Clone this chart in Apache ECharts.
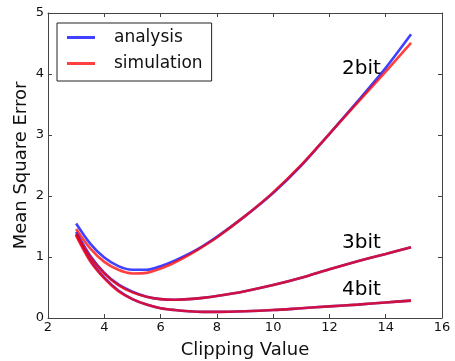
<!DOCTYPE html>
<html>
<head>
<meta charset="utf-8">
<script src="https://cdn.jsdelivr.net/npm/echarts@6/dist/echarts.min.js"></script>
<style>
  html, body { margin: 0; padding: 0; background: #fff; }
  #chart { width: 455px; height: 361px; }
</style>
</head>
<body>
<div id="chart"></div>
<script>
// clipping values (x)
const clipValues = [3.0, 3.5, 4.0, 4.5, 5.0, 5.5, 6.0, 6.5, 7.0, 7.5, 8.0, 9.0, 10.0, 11.0, 12.0, 13.0, 14.0, 14.9]

// 2bit
const analysis2 = [1.55, 1.22, 0.99, 0.85, 0.79, 0.79, 0.85, 0.94, 1.05, 1.18, 1.33, 1.67, 2.05, 2.50, 3.02, 3.55, 4.10, 4.65]
const simulation2 = [1.46, 1.14, 0.92, 0.79, 0.73, 0.74, 0.81, 0.91, 1.03, 1.17, 1.32, 1.67, 2.06, 2.51, 3.02, 3.53, 4.04, 4.51]
// 3bit
const analysis3 = [1.41, 1.02, 0.74, 0.55, 0.43, 0.35, 0.31, 0.30, 0.31, 0.33, 0.36, 0.44, 0.54, 0.66, 0.80, 0.93, 1.05, 1.16]
const simulation3 = [1.38, 1.00, 0.73, 0.54, 0.42, 0.35, 0.31, 0.30, 0.31, 0.33, 0.36, 0.44, 0.54, 0.66, 0.80, 0.93, 1.05, 1.16]
// 4bit
const analysis4 = [1.37, 0.95, 0.66, 0.45, 0.31, 0.22, 0.16, 0.13, 0.11, 0.10, 0.10, 0.11, 0.13, 0.16, 0.19, 0.22, 0.255, 0.285]
const simulation4 = [1.35, 0.93, 0.65, 0.44, 0.31, 0.22, 0.16, 0.13, 0.11, 0.10, 0.10, 0.11, 0.13, 0.16, 0.19, 0.22, 0.255, 0.285]

const xTicks = [2, 4, 6, 8, 10, 12, 14, 16]
const yTicks = [0, 1, 2, 3, 4, 5]

// curve labels, anchored in data coords
const curveLabels = [
  { text: '2bit', x: 12.45, y: 4.08 },
  { text: '3bit', x: 12.45, y: 1.23 },
  { text: '4bit', x: 12.45, y: 0.46 }
]

const FONT = 'DejaVu Sans'
const BLUE = '#0000ff'
const RED = '#ff0000'

const toPairs = (ys) => clipValues.map((x, i) => [x, ys[i]])

const makeSeries = (name, color, ys) => ({
  name,
  type: 'line',
  data: toPairs(ys),
  smooth: 0.3,
  symbol: 'none',
  color,
  lineStyle: { width: 2.6, color, opacity: 0.75 },
  itemStyle: { color, opacity: 0.75 },
  z: name === 'simulation' ? 3 : 2
})

const axisCommon = {
  type: 'value',
  splitLine: { show: false },
  axisLine: { show: true, onZero: false, lineStyle: { color: '#444', width: 1 } },
  axisTick: { show: true, inside: true, length: 4, lineStyle: { color: '#444' } }
}

const chart = echarts.init(document.getElementById('chart'))

const option = {
  animation: false,
  backgroundColor: '#fff',
  grid: { left: 48, right: 13, top: 13, bottom: 43, outerBoundsMode: 'none' },
  legend: {
    data: ['analysis', 'simulation'],
    orient: 'vertical',
    left: 57,
    top: 23,
    icon: 'rect',
    itemWidth: 28,
    itemHeight: 3,
    itemGap: 9,
    padding: [6, 9, 9, 10],
    borderColor: '#222',
    borderWidth: 1,
    borderRadius: 0,
    textStyle: { fontFamily: FONT, fontSize: 17, lineHeight: 17, color: '#111', padding: [0, 0, 0, 14] }
  },
  xAxis: [
    Object.assign({}, axisCommon, {
      min: xTicks[0], max: xTicks[xTicks.length - 1], interval: 2,
      position: 'bottom',
      name: 'Clipping Value',
      nameLocation: 'middle',
      nameGap: 23,
      nameTextStyle: { fontFamily: FONT, fontSize: 18, color: '#111' },
      axisLabel: { fontFamily: FONT, fontSize: 13, color: '#111', margin: 3 }
    }),
    Object.assign({}, axisCommon, {
      min: xTicks[0], max: xTicks[xTicks.length - 1], interval: 2,
      position: 'top',
      axisLabel: { show: false }
    })
  ],
  yAxis: [
    Object.assign({}, axisCommon, {
      min: yTicks[0], max: yTicks[yTicks.length - 1], interval: 1,
      position: 'left',
      name: 'Mean Square Error',
      nameLocation: 'middle',
      nameGap: 18,
      nameMoveOverlap: false,
      nameTextStyle: { fontFamily: FONT, fontSize: 18, color: '#111' },
      axisLabel: { fontFamily: FONT, fontSize: 13, color: '#111', margin: 4 }
    }),
    Object.assign({}, axisCommon, {
      min: yTicks[0], max: yTicks[yTicks.length - 1], interval: 1,
      position: 'right',
      axisLabel: { show: false }
    })
  ],
  series: [
    makeSeries('analysis', BLUE, analysis2),
    makeSeries('analysis', BLUE, analysis3),
    makeSeries('analysis', BLUE, analysis4),
    makeSeries('simulation', RED, simulation2),
    makeSeries('simulation', RED, simulation3),
    makeSeries('simulation', RED, simulation4)
  ]
}

chart.setOption(option)

// place the bit labels through the chart's own scales
chart.setOption({
  graphic: curveLabels.map(l => {
    const p = chart.convertToPixel({ xAxisIndex: 0, yAxisIndex: 0 }, [l.x, l.y])
    return {
      type: 'text',
      x: p[0],
      y: p[1],
      style: {
        text: l.text,
        fontFamily: FONT,
        fontSize: 20,
        fill: '#000',
        verticalAlign: 'middle',
        align: 'left'
      },
      z: 10
    }
  })
})
</script>
</body>
</html>
